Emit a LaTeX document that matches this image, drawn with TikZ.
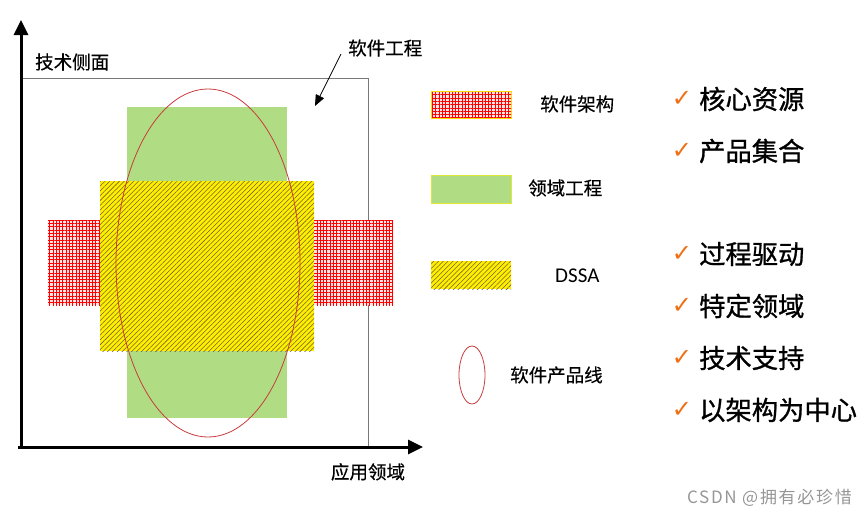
\documentclass[tikz,border=0pt]{standalone}
\usepackage{fontspec}
\setmainfont{Carlito}
\newfontfamily\cjk{Noto Sans CJK SC}[FakeBold=0.4]
\newfontfamily\cjkbig{Noto Sans CJK SC}[FakeBold=1.0]
\newfontfamily\cjkwm{Noto Sans CJK SC}[LetterSpace=10]
\newfontfamily\sym{DejaVu Sans}
\usetikzlibrary{patterns.meta,arrows.meta}
\definecolor{grn}{RGB}{176,221,132}
\definecolor{yel}{RGB}{255,240,0}
\definecolor{hatchc}{RGB}{120,95,35}
\definecolor{ellc}{RGB}{200,60,60}
\definecolor{chkc}{RGB}{240,110,20}
\definecolor{boxc}{RGB}{120,120,120}
\definecolor{wm}{RGB}{150,150,150}
\tikzset{
  lbl/.style={font=\cjk\fontsize{18.5}{20}\selectfont, inner sep=0pt},
  big/.style={font=\cjkbig\fontsize{26.3}{28}\selectfont, inner sep=0pt, anchor=west},
  chk/.style={font=\sym\fontsize{24}{26}\selectfont, text=chkc, inner sep=0pt},
  gridfill/.style={pattern={Hatch[distance=3.3pt,line width=0.55pt]}, pattern color=red},
  dssafill/.style={pattern={Lines[angle=45,distance=3.4pt,line width=0.55pt]}, pattern color=hatchc},
  axis/.style={line width=3pt, -{Triangle[length=15pt,width=14pt]}},
  ellstyle/.style={draw=ellc, line width=0.8pt}
}
\begin{document}
\begin{tikzpicture}[x=1pt,y=-1pt]
\useasboundingbox (0,0) rectangle (868,517);
% engineering box
\draw[boxc, line width=1pt] (21,78) rectangle (368,447);
% green
\fill[grn] (127,107) rectangle (287,418);
% red grids
\fill[white!90!red] (48,220) rectangle (100,305);
\fill[gridfill] (48,220) rectangle (100,305);
\fill[white!90!red] (314,220) rectangle (393,305);
\fill[gridfill] (314,220) rectangle (393,305);
% DSSA
\fill[yel] (100,181) rectangle (314,351);
\fill[dssafill] (100,181) rectangle (314,351);
% product line ellipse
\draw[ellstyle] (208,263) ellipse [x radius=92pt, y radius=174pt];
% axes
\coordinate (o) at (21,447);
\coordinate (ytip) at (21,20);
\coordinate (xstart) at (18,447);
\coordinate (xtip) at (423,447);
\draw[axis] (o) -- (ytip);
\draw[axis] (xstart) -- (xtip);
\node[lbl, anchor=west] (side) at (35,62) {技术侧面};
\node[lbl, anchor=north] (app) at (368,463) {应用领域};
\node[lbl, anchor=west] (se) at (348,48) {软件工程};
\coordinate (seTip) at (315,106);
\draw[line width=0.7pt, -{Triangle[length=11pt,width=9pt]}] (341,54) -- (seTip);
% legend
\fill[white!90!red] (431,91) rectangle (511,118);
\fill[gridfill] (431,91) rectangle (511,118);
\draw[yel!80!orange, line width=0.6pt] (431,91) rectangle (511,118);
\node[lbl, anchor=west] (la) at (540,104) {软件架构};
\fill[grn] (431,175) rectangle (511,203);
\draw[yel!60!grn, line width=0.6pt] (431,175) rectangle (511,203);
\node[lbl, anchor=west] (ld) at (528,188) {领域工程};
\fill[yel] (431,261) rectangle (511,289);
\fill[dssafill] (431,261) rectangle (511,289);
\node[font=\fontsize{21}{22}\selectfont, inner sep=0pt, anchor=west] (ls) at (555,276) {DSSA};
\draw[ellstyle] (472,375) ellipse [x radius=13pt, y radius=29pt];
\node[lbl, anchor=west] (lp) at (510,375) {软件产品线};
% checklist
\node[chk] (c1) at (682,99) {✓};
\node[big] (t1) at (699,99) {核心资源};
\node[chk] (c2) at (682,151) {✓};
\node[big] (t2) at (699,151) {产品集合};
\node[chk] (c3) at (682,254) {✓};
\node[big] (t3) at (699,254) {过程驱动};
\node[chk] (c4) at (682,306) {✓};
\node[big] (t4) at (699,306) {特定领域};
\node[chk] (c5) at (682,358) {✓};
\node[big] (t5) at (699,358) {技术支持};
\node[chk] (c6) at (682,410) {✓};
\node[big] (t6) at (699,410) {以架构为中心};
% watermark
\node[font=\cjkwm\fontsize{17}{18}\selectfont, text=wm, inner sep=0pt, anchor=east] (wmk) at (852,498) {CSDN @拥有必珍惜};
\end{tikzpicture}
\end{document}
